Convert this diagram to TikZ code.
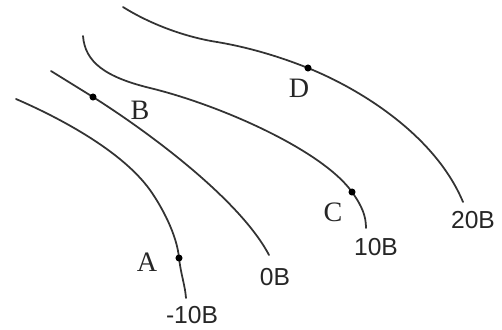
\documentclass[tikz,border=0pt]{standalone}
\usepackage{fontspec}
\setmainfont{Liberation Serif}
\setsansfont{Liberation Sans}
\usepackage{tikz}
\usetikzlibrary{positioning}

\begin{document}
\begin{tikzpicture}[
    x=0.02cm, y=-0.02cm,
    isoline/.style={line width=1pt, draw=black!80, line cap=round},
    spot/.style={circle, fill=black, inner sep=0pt, minimum size=4pt},
    ptlabel/.style={font=\fontsize{16}{16}\selectfont, text=black!85},
    vallabel/.style={font=\sffamily\fontsize{14}{14}\selectfont, text=black!85},
]
    \useasboundingbox (0,0) rectangle (502,329);
    % isolines
    \draw[isoline] (16,99) .. controls (60,118) and (122,151) .. (150,190)
        .. controls (162,207) and (177,235) .. (179,258)
        .. controls (181,275) and (185,285) .. (186,298);
    \draw[isoline] (51,71) -- (93,97)
        .. controls (150,133) and (240,200) .. (269,255);
    \draw[isoline] (83,36) .. controls (85,62) and (105,77) .. (150,88)
        .. controls (220,105) and (322,150) .. (352,192)
        .. controls (362,206) and (366,216) .. (366,228);
    \draw[isoline] (123,7) .. controls (150,24) and (185,37) .. (217,42)
        .. controls (247,47) and (278,56) .. (308,68)
        .. controls (360,89) and (435,135) .. (463,202);
    % points on the lines
    \node[spot] (ptA) at (179,258) {};
    \node[spot] (ptB) at (93,97) {};
    \node[spot] (ptC) at (352,192) {};
    \node[spot] (ptD) at (308,68) {};
    \node[ptlabel] (labA) at (147,262) {A};
    \node[ptlabel] (labB) at (140,110) {B};
    \node[ptlabel] (labC) at (333,212) {C};
    \node[ptlabel] (labD) at (299,88) {D};
    % values of the lines
    \node[vallabel] (valm10) at (192,315) {-10B};
    \node[vallabel] (val0) at (275,277) {0B};
    \node[vallabel] (val10) at (376,247) {10B};
    \node[vallabel] (val20) at (473,220) {20B};
\end{tikzpicture}
\end{document}
